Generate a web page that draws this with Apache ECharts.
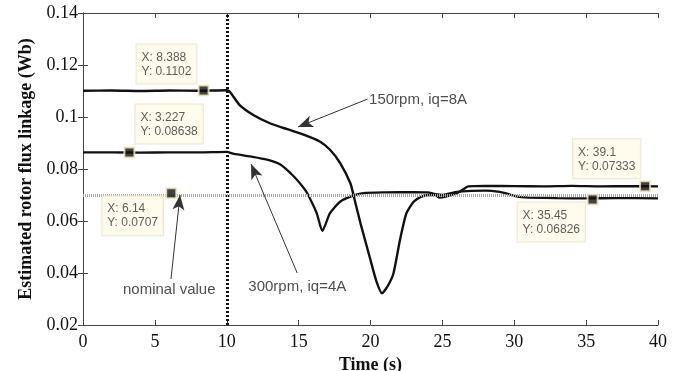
<!DOCTYPE html>
<html><head><meta charset="utf-8">
<script src="https://cdn.jsdelivr.net/npm/echarts@6/dist/echarts.min.js"></script>
<style>html,body{margin:0;padding:0;background:#fff}#c{width:682px;height:371px}</style>
</head><body><div id="c"></div>
<script>
// ---- data ----
var xTicks = [0, 5, 10, 15, 20, 25, 30, 35, 40];
var yTicks = [0.02, 0.04, 0.06, 0.08, 0.1, 0.12, 0.14];

var t150 = [0, 2, 4, 6, 8, 10, 10.2, 10.9, 11.85, 13, 14.2, 15.3, 16.5, 17.2, 17.9, 18.6, 18.9, 19.3, 20, 20.4, 20.8, 21.2, 21.6, 22.05, 22.5, 23, 23.5, 24, 24.5, 24.8, 25.3, 26, 26.4, 26.8, 28, 30, 32, 34, 36, 38, 40];
var v150 = [0.1101, 0.1102, 0.1100, 0.1102, 0.1101, 0.1103, 0.1098, 0.1046, 0.1008, 0.0976, 0.0953, 0.0933, 0.0905, 0.0873, 0.0822, 0.0745, 0.0681, 0.0592, 0.045, 0.037, 0.0322, 0.035, 0.0399, 0.0527, 0.063, 0.0674, 0.0693, 0.0700, 0.0700, 0.0690, 0.0695, 0.0707, 0.0720, 0.0733, 0.0735, 0.0734, 0.0733, 0.0735, 0.0733, 0.0734, 0.0733];

var t300 = [0, 2, 4, 6, 8, 10, 10.5, 11.8, 12.8, 13.7, 14.6, 15.3, 15.6, 16.26, 16.65, 17.18, 17.88, 18.57, 19.5, 21, 23, 24, 24.5, 25, 25.5, 26, 27, 28, 29, 29.5, 30, 30.5, 31, 33, 35, 37, 40];
var v300 = [0.0864, 0.0864, 0.0863, 0.0864, 0.0864, 0.0866, 0.0858, 0.0847, 0.0836, 0.0818, 0.0775, 0.0731, 0.0707, 0.063, 0.0562, 0.063, 0.0674, 0.0693, 0.0707, 0.0710, 0.0711, 0.0710, 0.0703, 0.0700, 0.0706, 0.0712, 0.0716, 0.0717, 0.0712, 0.0705, 0.0697, 0.0692, 0.0690, 0.0688, 0.0687, 0.0688, 0.0687];

var nominalValue = 0.0707;
var stepTime = 10;

var tipX = [8.388, 3.227, 6.14, 39.1, 35.45];
var tipY = [0.1102, 0.08638, 0.0707, 0.07333, 0.06826];

var annText = ['150rpm, iq=8A', '300rpm, iq=4A', 'nominal value'];
var annTextX = [19.9, 11.5, 6.0];
var annTextY = [0.1066, 0.0346, 0.0335];
var arrowFromX = [19.8, 14.9, 6.12];
var arrowFromY = [0.1069, 0.0400, 0.0377];
var arrowToX = [14.96, 11.69, 6.75];
var arrowToY = [0.0962, 0.0819, 0.0700];

// ---- build ----
function pairs(xs, ys) { return xs.map(function (x, i) { return [x, ys[i]]; }); }

var tipLabelPos = [[-61, -40], [12, -42], [-63, 9], [-66, -41], [-69, 9]];
var tipData = tipX.map(function (x, i) {
  return { value: [x, tipY[i]], label: { position: tipLabelPos[i] } };
});

var annAlign = ['left', 'left', 'center'];
var annData = annText.map(function (t, i) {
  return { value: [annTextX[i], annTextY[i]], name: t, label: { align: annAlign[i] } };
});
var arrowLines = annText.map(function (t, i) {
  return [{ coord: [arrowFromX[i], arrowFromY[i]], symbol: 'none' },
          { coord: [arrowToX[i], arrowToY[i]], symbol: 'arrow', symbolSize: [9, 15] }];
});

var serif = '"Liberation Serif", "DejaVu Serif", serif';
var sans = '"Liberation Sans", Arial, sans-serif';

var axisCommon = {
  axisLine: { show: true, lineStyle: { color: '#444', width: 1 } },
  axisTick: { show: true, inside: true, length: 5, lineStyle: { color: '#444' } },
  splitLine: { show: false }
};

var option = {
  animation: false,
  backgroundColor: '#fff',
  grid: { left: 83, right: 24, top: 13, bottom: 46, containLabel: false, outerBoundsMode: 'none' },
  xAxis: [
    Object.assign({
      type: 'value', min: 0, max: 40, interval: 5, position: 'bottom',
      name: 'Time (s)', nameLocation: 'middle', nameGap: 27,
      nameTextStyle: { fontFamily: serif, fontSize: 18, fontWeight: 'bold', color: '#111' },
      axisLabel: { fontFamily: serif, fontSize: 18, color: '#111', margin: 8,
        formatter: function (v) { return xTicks.indexOf(v) >= 0 ? String(v) : ''; } }
    }, axisCommon),
    Object.assign({ type: 'value', min: 0, max: 40, interval: 5, position: 'top', axisLabel: { show: false } }, axisCommon)
  ],
  yAxis: [
    Object.assign({
      type: 'value', min: 0.02, max: 0.14, interval: 0.02, position: 'left',
      name: 'Estimated rotor flux linkage (Wb)', nameLocation: 'middle', nameGap: 47,
      nameTextStyle: { fontFamily: serif, fontSize: 18, fontWeight: 'bold', color: '#111' },
      axisLabel: { fontFamily: serif, fontSize: 18, color: '#111', margin: 5,
        formatter: function (v) {
          var r = Math.round(v * 100) / 100;
          return String(r);
        } }
    }, axisCommon),
    Object.assign({ type: 'value', min: 0.02, max: 0.14, interval: 0.02, position: 'right', axisLabel: { show: false } }, axisCommon)
  ],
  series: [
    {
      name: 'refs', type: 'line', data: [], z: 1, silent: true,
      markLine: {
        silent: true, symbol: 'none', animation: false,
        label: { show: false },
        data: [
          { xAxis: stepTime, lineStyle: { color: '#111', width: 3, type: [2, 2] } },
          { yAxis: nominalValue, lineStyle: { color: '#a8a8a8', width: 3, type: [1, 1] } }
        ]
      }
    },
    {
      name: '150rpm, iq=8A', type: 'line', data: pairs(t150, v150), z: 3,
      showSymbol: false, smooth: 0.2, lineStyle: { color: '#111', width: 2.4 }
    },
    {
      name: '300rpm, iq=4A', type: 'line', data: pairs(t300, v300), z: 3,
      showSymbol: false, smooth: 0.2, lineStyle: { color: '#111', width: 2.3 }
    },
    {
      name: 'annotations', type: 'scatter', data: annData, symbolSize: 0, z: 4,
      label: { show: true, formatter: '{b}', position: 'inside', fontFamily: sans, fontSize: 15, color: '#222' },
      markLine: {
        silent: true, animation: false, label: { show: false },
        lineStyle: { color: '#333', width: 1, type: 'solid' },
        data: arrowLines
      }
    },
    {
      name: 'datatips', type: 'scatter', data: tipData, z: 5,
      symbol: 'rect', symbolSize: 10,
      itemStyle: { color: '#111', borderColor: '#f5ecc0', borderWidth: 2 },
      label: {
        show: true,
        formatter: function (p) { return 'X: ' + tipX[p.dataIndex] + '\nY: ' + tipY[p.dataIndex]; },
        fontFamily: sans, fontSize: 12, lineHeight: 14, color: '#333',
        backgroundColor: '#fffbe9', borderColor: '#e8e2c8', borderWidth: 1,
        padding: [6, 5, 5, 5], align: 'left', verticalAlign: 'top'
      }
    }
  ]
};
var chart = echarts.init(document.getElementById('c'), null, { renderer: 'canvas' });
chart.setOption(option);
</script></body></html>
